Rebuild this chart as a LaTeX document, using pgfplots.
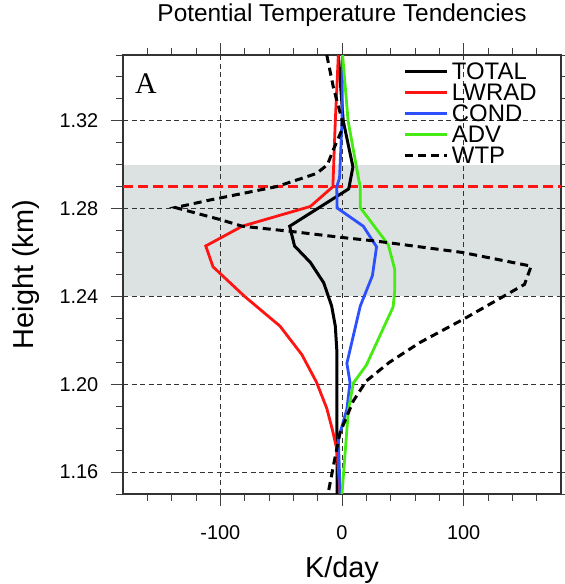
\documentclass[border=0pt]{standalone}
\usepackage{fontspec}
\setmainfont{Liberation Sans}
\newfontfamily\serifA{Liberation Serif}
\usepackage{pgfplots}
\pgfplotsset{compat=1.18}
\definecolor{bandgray}{RGB}{220,226,226}
\definecolor{cred}{RGB}{255,20,20}
\definecolor{cblue}{RGB}{45,80,255}
\definecolor{cgreen}{RGB}{70,235,20}
\begin{document}
\begin{tikzpicture}
\begin{axis}[
  at={(0,0)}, anchor=south west,
  scale only axis, width=438bp, height=439bp,
  xmin=-180, xmax=180, ymin=1.15, ymax=1.35,
  xtick={-100,0,100}, xticklabels={-100,0,100},
  minor xtick={-160,-140,-120,-80,-60,-40,-20,20,40,60,80,120,140,160},
  ytick={1.16,1.20,1.24,1.28,1.32}, yticklabels={1.16,1.20,1.24,1.28,1.32},
  minor ytick={1.15,1.17,1.18,1.19,1.21,1.22,1.23,1.25,1.26,1.27,1.29,1.30,1.31,1.33,1.34,1.35},
  tick align=outside,
  major tick length=11.5bp, minor tick length=6.5bp,
  every tick/.style={black!75, line width=0.9bp},
  axis line style={black!80, line width=1.1bp},
  xmajorgrids, ymajorgrids,
  major grid style={black!80, line width=0.8bp, dash pattern=on 5bp off 3.5bp},
  set layers,
  tick label style={font=\fontsize{20}{20}\selectfont},
  xticklabel style={anchor=base, yshift=-34bp},
  yticklabel style={anchor=east, inner sep=0pt, xshift=-13bp},
  title={Potential Temperature Tendencies},
  title style={at={(axis description cs:0.5,1)}, anchor=base, yshift=28bp, font=\fontsize{24.5}{24.5}\selectfont},
  xlabel={K/day},
  xlabel style={at={(axis description cs:0.5,-0.1905)}, anchor=base, font=\fontsize{29}{29}\selectfont},
  ylabel={Height (km)},
  ylabel style={at={(axis description cs:-0.2032,0.5)}, anchor=base, rotate=0, font=\fontsize{29}{29}\selectfont},
  legend style={draw=none, fill=none, at={(axis description cs:0.641,0.985)}, anchor=north west,
    font=\fontsize{24}{24}\selectfont, inner sep=0pt, row sep=2bp, column sep=2bp,
    nodes={inner sep=1bp, text height=17bp, text depth=0bp}},
  legend cell align=left,
  legend image code/.code={\draw[#1] (0bp,0bp) -- (42bp,0bp);},
]
\addplot[on layer=axis background, fill=bandgray, draw=none, forget plot]
  coordinates {(-180,1.24) (180,1.24) (180,1.30) (-180,1.30)} -- cycle;
\addplot[cred, line width=2.8bp, dash pattern=on 10bp off 5bp, forget plot]
  coordinates {(-180,1.29) (180,1.29)};

\addplot[black, line width=3bp] coordinates {
(-3,1.350) (1,1.320) (9,1.299) (5.5,1.289) (-43,1.272) (-39,1.263) (-26,1.2555)
(-15,1.2462) (-8.5,1.2356) (-5.5,1.2265) (-4.3,1.2159) (-4.3,1.202) (-4,1.150)};
\addlegendentry{TOTAL}
\addplot[cred, line width=2.8bp] coordinates {
(-3,1.350) (-5.5,1.320) (-7.5,1.290) (-26,1.281) (-82,1.272) (-112,1.263) (-106,1.2535)
(-80,1.240) (-51,1.2265) (-33,1.2135) (-21,1.201) (-12.5,1.189) (-8,1.1795) (-4.3,1.1705) (-1.5,1.150)};
\addlegendentry{LWRAD}
\addplot[cblue, line width=2.8bp] coordinates {
(0.5,1.350) (0,1.320) (-2,1.294) (-4.3,1.290) (-4,1.2803) (17.5,1.272) (28.4,1.2626)
(25,1.2495) (15,1.2356) (4,1.2095) (6.6,1.2008) (4,1.1887) (-3,1.175) (-1.5,1.150)};
\addlegendentry{COND}
\addplot[cgreen, line width=2.8bp] coordinates {
(0.5,1.350) (5,1.320) (13.5,1.294) (15,1.290) (15,1.2805) (38,1.2636) (43.4,1.2523)
(43.4,1.2430) (42,1.2352) (20,1.2087) (9.3,1.2005) (5.2,1.188) (0,1.150)};
\addlegendentry{ADV}
\addplot[black, line width=3bp, dash pattern=on 8bp off 5bp] coordinates {
(-12.5,1.350) (-7,1.335) (0,1.3205) (0,1.316) (-7,1.307) (-12,1.300) (-21,1.296) (-54,1.290)
(-108,1.284) (-137,1.2805) (-100,1.275) (-82,1.272) (-43,1.2697) (1,1.2668) (28.4,1.2652)
(99.5,1.260) (155.5,1.2538) (150,1.2455) (101,1.230) (64,1.219) (39,1.210) (20,1.2015)
(9.3,1.1924) (-1.6,1.178) (-7,1.163) (-11.5,1.150)};
\addlegendentry{WTP}

\node[anchor=base west, inner sep=0pt, font=\serifA\fontsize{30}{30}\selectfont]
  at (axis description cs:0.0274,0.9127) {A};
\end{axis}
\pgfresetboundingbox
\useasboundingbox (-123bp,-90bp) rectangle (442bp,494bp);
\end{tikzpicture}
\end{document}
